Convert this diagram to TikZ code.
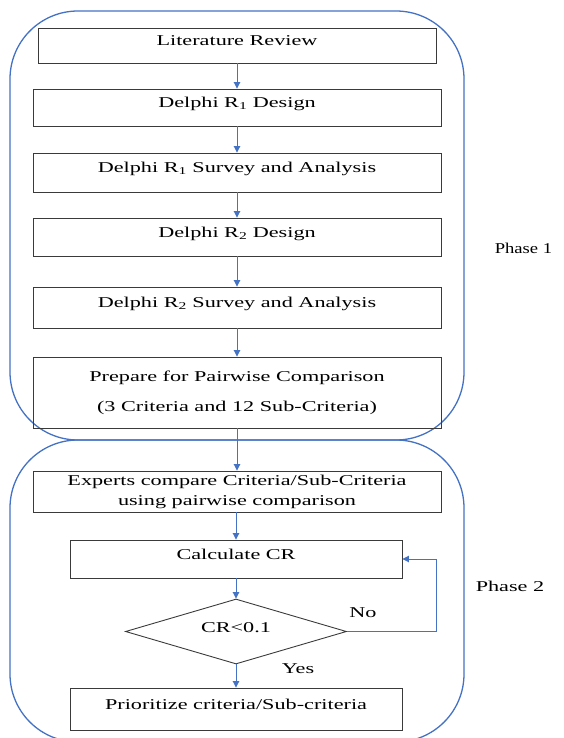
\documentclass[tikz,border=0pt]{standalone}
\usepackage{fontspec}
\setmainfont{Liberation Serif}[FakeStretch=1.48]
\newfontfamily\narrowlabel{Liberation Serif}[FakeStretch=1.24]
\usetikzlibrary{shapes.geometric,arrows.meta}
\definecolor{phaseblue}{HTML}{4472C4}
\definecolor{boxline}{HTML}{3A3A3A}
\begin{document}
\begin{tikzpicture}[x=1pt,y=-1pt,
  every node/.style={font=\fontsize{15}{18}\selectfont},
  phasebox/.style={draw=phaseblue,line width=1.3pt,rounded corners=68pt,
    minimum width=454pt,inner sep=0pt},
  stepbox/.style={draw=boxline,line width=0.9pt,inner sep=0pt,
    text height=10pt,text depth=10pt},
  multibox/.style={draw=boxline,line width=0.9pt,inner sep=0pt},
  decision/.style={diamond,draw=boxline,line width=0.9pt,inner sep=0pt,
    minimum width=221pt,minimum height=65pt,aspect=3.5,
    text height=10pt,text depth=8pt},
  arr/.style={draw=phaseblue,line width=0.9pt,
    -{Triangle[width=6.5pt,length=6.5pt]}},
  tag/.style={inner sep=0pt}
]
\useasboundingbox (0,0) rectangle (563,738);

% phase containers
\node[phasebox,minimum height=429pt] (ph1) at (237,225.5) {};
\node[phasebox,minimum height=302pt] (ph2) at (237,591) {};

% phase 1 steps
\node[stepbox,minimum width=398pt,minimum height=35pt] (lit) at (237,45.5) {Literature Review};
\node[stepbox,minimum width=408pt,minimum height=37pt] (d1d) at (237,107.5) {Delphi R\textsubscript{1} Design};
\node[stepbox,minimum width=408pt,minimum height=39pt] (d1s) at (237,172.5) {Delphi R\textsubscript{1} Survey and Analysis};
\node[stepbox,minimum width=408pt,minimum height=38pt] (d2d) at (237,237) {Delphi R\textsubscript{2} Design};
\node[stepbox,minimum width=408pt,minimum height=41pt] (d2s) at (237,307.5) {Delphi R\textsubscript{2} Survey and Analysis};
\node[multibox,minimum width=408pt,minimum height=71pt] (prep) at (237,392.5)
  {\raisebox{5pt}{\begin{tabular}{@{}c@{}}Prepare for Pairwise Comparison\\[12pt](3 Criteria and 12 Sub-Criteria)\end{tabular}}};

% phase 2 steps
\node[multibox,minimum width=408pt,minimum height=41pt] (exp) at (237,491.5)
  {\begin{tabular}{@{}c@{}}Experts compare Criteria/Sub-Criteria\\[2pt]using pairwise comparison\end{tabular}};
\node[stepbox,minimum width=332pt,minimum height=38pt] (calc) at (236,559) {Calculate CR};
\node[decision] (dia) at (236,631.5) {CR<0.1};
\node[stepbox,minimum width=332pt,minimum height=42pt] (prio) at (236,709) {Prioritize criteria/Sub-criteria};

% labels
\node[tag,font=\fontsize{15}{18}\narrowlabel] (lab1) at (523.5,248) {Phase 1};
\node[tag] (lab2) at (510,586) {Phase 2};
\node[tag] (no) at (363,613) {No};
\node[tag] (yes) at (298,669) {Yes};

% connectors
\draw[arr] (lit) -- (d1d);
\draw[arr] (d1d) -- (d1s);
\draw[arr] (d1s) -- (d2d);
\draw[arr] (d2d) -- (d2s);
\draw[arr] (d2s) -- (prep);
\draw[arr] (prep) -- (exp);
\draw[arr] (exp.south -| calc.north) -- (calc.north);
\draw[arr] (calc) -- (dia);
\draw[arr] (dia) -- (prio);
\coordinate (loop) at (436,559);
\draw[arr] (dia.east) -| (loop) -- (calc.east);
\end{tikzpicture}
\end{document}
